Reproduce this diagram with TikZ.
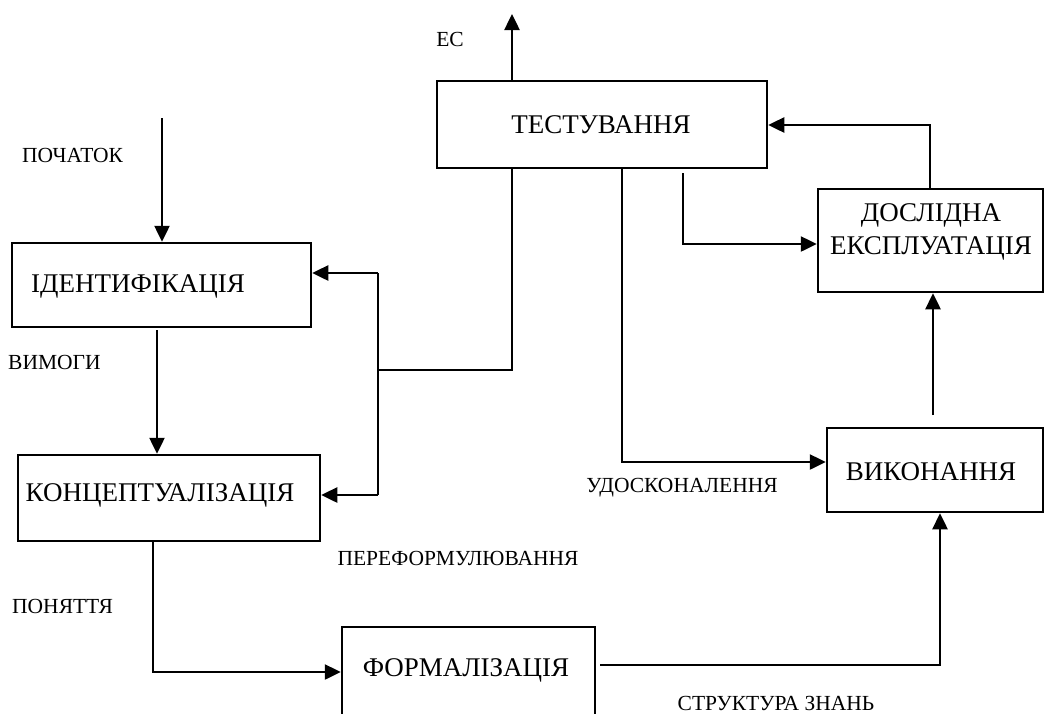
\documentclass[tikz,border=0pt]{standalone}
\usepackage{fontspec}
\setmainfont{Liberation Serif}
\usetikzlibrary{arrows.meta,calc}
\begin{document}
\begin{tikzpicture}[x=1pt,y=-1pt,
  box/.style={draw,line width=2.5pt,rectangle,inner sep=0pt},
  boxtext/.style={font=\fontsize{27}{33}\selectfont,inner sep=0pt,align=center},
  lbl/.style={font=\fontsize{21.5}{25}\selectfont,inner sep=0pt},
  conn/.style={line width=2.5pt},
  arr/.style={line width=2.5pt,-{Triangle[length=16pt,width=15pt]}}]
\useasboundingbox (0,0) rectangle (1044,713);
% boxes
\node[box,minimum width=330pt,minimum height=87pt] (test) at (602,124.5) {};
\node[boxtext] (testt) at (601,125) {ТЕСТУВАННЯ};
\node[box,minimum width=225pt,minimum height=103pt] (dosl) at (930.5,240.5) {};
\node[boxtext] (doslt) at (931,231.5) {ДОСЛІДНА\\ЕКСПЛУАТАЦІЯ};
\node[box,minimum width=216pt,minimum height=84pt] (vyk) at (935,470) {};
\node[boxtext] (vykt) at (931,472) {ВИКОНАННЯ};
\node[box,minimum width=299pt,minimum height=84pt] (ident) at (161.5,285) {};
\node[boxtext] (identt) at (138,286) {ІДЕНТИФІКАЦІЯ};
\node[box,minimum width=302pt,minimum height=86pt] (conc) at (169,498) {};
\node[boxtext] (conct) at (160,495) {КОНЦЕПТУАЛІЗАЦІЯ};
\node[box,minimum width=253pt,minimum height=100pt] (form) at (468.5,677) {};
\node[boxtext] (formt) at (466,670) {ФОРМАЛІЗАЦІЯ};
% labels
\node[lbl] (lec) at (450,39) {ЕС};
\node[lbl,anchor=west] (lstart) at (22,155) {ПОЧАТОК};
\node[lbl,anchor=west] (lvym) at (8,362) {ВИМОГИ};
\node[lbl,anchor=west] (lpon) at (12,606) {ПОНЯТТЯ};
\node[lbl] (lpere) at (458,558) {ПЕРЕФОРМУЛЮВАННЯ};
\node[lbl] (ludos) at (682,488) {УДОСКОНАЛЕННЯ};
\node[lbl] (lstr) at (776,703) {СТРУКТУРА ЗНАНЬ};
% coordinates
\coordinate (ectop) at (512,14);
\coordinate (start) at (162,118);
\coordinate (vv) at (157,330);
\coordinate (jm) at (378,370);
\coordinate (j1) at (378,273);
\coordinate (j2) at (378,495);
\coordinate (tx1) at (512,370);
\coordinate (c4) at (622,462);
\coordinate (c5a) at (683,173);
\coordinate (c5) at (683,244);
\coordinate (c6) at (930,125);
\coordinate (c7) at (933,415);
\coordinate (c8a) at (600,665);
\coordinate (c8) at (940,665);
\coordinate (c9) at (153,672);
% connectors
\draw[arr] (test.north -| ectop) -- (ectop);
\draw[arr] (start) -- (start |- ident.north);
\draw[arr] (vv) -- (vv |- conc.north);
\draw[conn] (test.south -| tx1) -- (tx1) -- (jm);
\draw[conn] (j1) -- (j2);
\draw[arr] (j1) -- (j1 -| ident.east);
\draw[arr] (j2) -- (j2 -| conc.east);
\draw[arr] (test.south -| c4) -- (c4) -- (c4 -| vyk.west);
\draw[arr] (c5a) -- (c5) -- (c5 -| dosl.west);
\draw[arr] (dosl.north -| c6) -- (c6) -- (c6 -| test.east);
\draw[arr] (c7) -- (c7 |- dosl.south);
\draw[arr] (c8a) -- (c8) -- (c8 |- vyk.south);
\draw[arr] (conc.south -| c9) -- (c9) -- (c9 -| form.west);
\end{tikzpicture}
\end{document}
